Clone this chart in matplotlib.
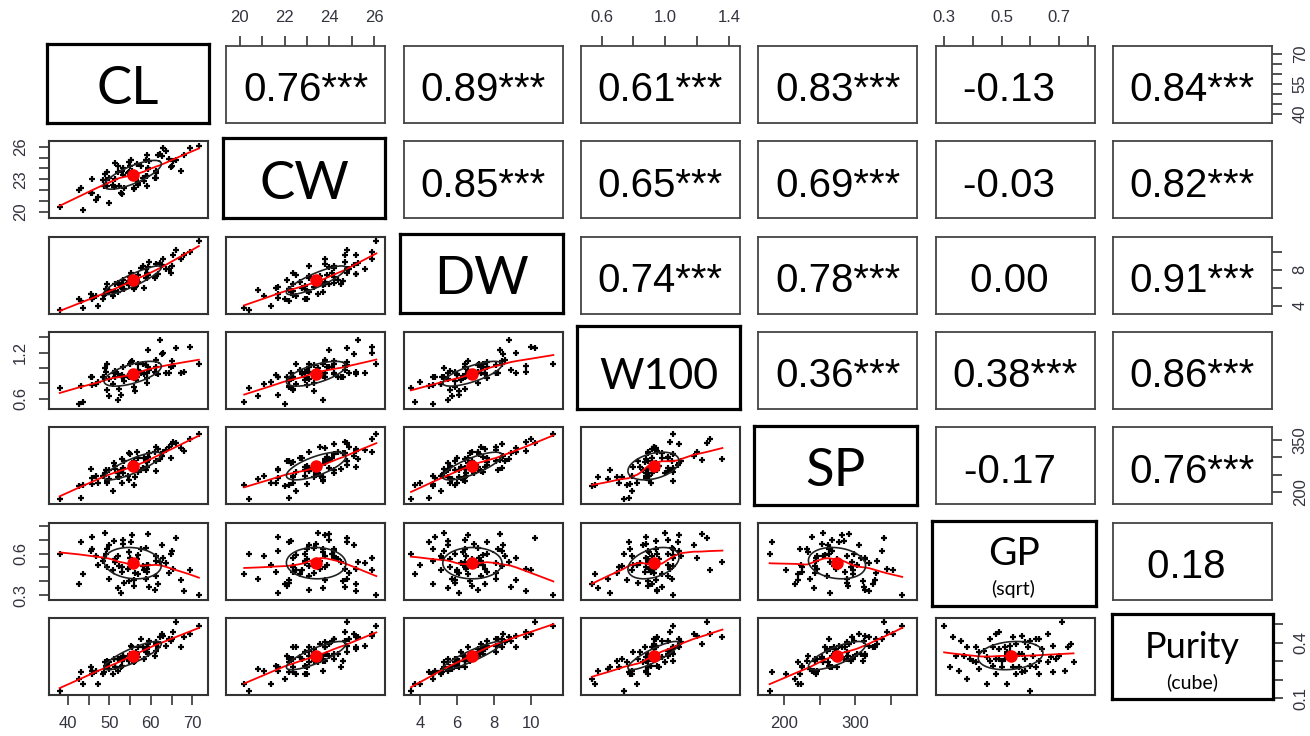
import numpy as np
import matplotlib
matplotlib.use("Agg")
import matplotlib.pyplot as plt

# variables shown on the diagonal
names = ["CL", "CW", "DW", "W100", "SP", "GP", "Purity"]
subtitles = ["", "", "", "", "", "(sqrt)", "(cube)"]

# observations (same row index = same sample)
cl = [38.0, 43.5, 43.2, 47.3, 42.6, 46.8, 45.8, 50.9, 45.7, 49.9,
      48.5, 49.3, 45.6, 52.0, 48.7, 53.1, 49.9, 52.4, 48.9, 55.9,
      51.3, 52.9, 49.1, 54.5, 51.2, 56.1, 51.4, 53.6, 49.5, 56.5,
      53.2, 58.3, 52.0, 56.0, 54.6, 57.0, 53.2, 59.1, 54.7, 56.8,
      53.0, 58.9, 56.7, 61.3, 55.5, 59.1, 54.9, 59.0, 61.1, 57.6,
      59.2, 55.1, 61.3, 58.9, 64.9, 58.1, 61.7, 59.3, 64.5, 61.3,
      63.6, 59.5, 65.2, 62.3, 67.2, 62.8, 65.3, 62.9, 68.1, 66.1,
      69.5, 71.6]
cw = [20.4, 20.2, 22.2, 21.4, 22.0, 21.1, 23.0, 22.5, 21.7, 20.8,
      22.9, 22.4, 21.7, 23.7, 22.4, 21.6, 23.1, 22.4, 23.5, 22.2,
      23.0, 21.7, 22.9, 23.6, 22.3, 23.3, 24.5, 22.2, 23.7, 22.9,
      23.4, 22.8, 24.2, 22.1, 23.7, 22.7, 24.0, 23.3, 24.6, 22.5,
      23.8, 23.3, 24.4, 23.1, 23.8, 22.4, 24.2, 25.2, 23.1, 24.2,
      23.9, 24.8, 23.6, 24.8, 24.1, 23.1, 25.2, 24.0, 24.9, 23.8,
      25.6, 24.7, 24.2, 25.3, 23.8, 25.1, 24.7, 25.9, 25.2, 24.8,
      25.9, 26.1]
dw = [3.5, 3.7, 4.5, 4.0, 4.7, 5.1, 4.7, 5.1, 4.8, 5.7,
      4.7, 5.6, 5.3, 5.5, 5.2, 6.0, 5.5, 6.4, 5.3, 5.9,
      5.6, 6.1, 5.9, 6.5, 5.5, 6.1, 6.4, 5.9, 6.4, 6.2,
      6.9, 6.0, 6.5, 6.8, 6.3, 6.6, 6.4, 7.1, 6.7, 7.4,
      6.4, 7.1, 6.8, 7.3, 6.6, 7.6, 7.2, 7.5, 7.1, 8.2,
      7.4, 7.6, 7.3, 8.1, 7.6, 8.4, 7.5, 8.3, 8.1, 8.6,
      8.1, 8.9, 8.4, 8.8, 9.2, 8.5, 9.7, 9.2, 9.7, 10.2,
      10.0, 11.2]
w100 = [0.74, 0.56, 0.77, 0.82, 0.54, 0.79, 0.78, 0.79, 0.88, 0.64,
        0.89, 0.71, 0.89, 0.58, 0.88, 0.91, 0.86, 0.73, 1.00, 0.76,
        0.96, 0.65, 0.95, 0.90, 0.94, 0.70, 0.89, 0.83, 1.05, 0.84,
        0.88, 0.92, 0.92, 0.89, 0.90, 0.98, 1.02, 0.80, 0.89, 1.05,
        0.88, 1.04, 0.89, 1.02, 1.09, 0.87, 1.05, 0.93, 0.95, 0.94,
        1.02, 1.08, 0.93, 1.04, 1.02, 1.05, 0.92, 1.23, 0.93, 1.10,
        0.94, 0.98, 1.09, 1.36, 0.94, 1.18, 1.03, 1.20, 0.95, 1.26,
        1.28, 1.05]
sp = [180, 220, 183, 224, 216, 246, 223, 203, 240, 236,
      245, 225, 267, 242, 245, 226, 262, 243, 255, 220,
      275, 264, 263, 246, 284, 244, 265, 288, 232, 272,
      254, 297, 255, 290, 234, 297, 268, 272, 311, 257,
      294, 264, 314, 261, 282, 286, 308, 273, 314, 263,
      302, 278, 331, 289, 298, 270, 325, 292, 329, 289,
      320, 313, 337, 295, 328, 305, 344, 314, 319, 341,
      353, 366]
gp = [0.60, 0.45, 0.68, 0.52, 0.38, 0.58, 0.63, 0.48, 0.72, 0.42,
      0.55, 0.50, 0.62, 0.35, 0.57, 0.47, 0.66, 0.51, 0.75, 0.41,
      0.56, 0.32, 0.60, 0.49, 0.69, 0.46, 0.54, 0.39, 0.63, 0.53,
      0.67, 0.48, 0.58, 0.37, 0.61, 0.45, 0.70, 0.52, 0.40, 0.59,
      0.50, 0.64, 0.56, 0.44, 0.73, 0.47, 0.57, 0.49, 0.34, 0.63,
      0.52, 0.68, 0.55, 0.42, 0.60, 0.51, 0.38, 0.74, 0.46, 0.58,
      0.53, 0.36, 0.62, 0.54, 0.41, 0.66, 0.49, 0.57, 0.33, 0.71,
      0.48, 0.30]
purity = [0.12, 0.16, 0.23, 0.16, 0.19, 0.24, 0.22, 0.22, 0.24, 0.25,
          0.22, 0.26, 0.26, 0.24, 0.23, 0.27, 0.29, 0.31, 0.29, 0.29,
          0.26, 0.26, 0.27, 0.31, 0.31, 0.30, 0.26, 0.31, 0.30, 0.35,
          0.32, 0.31, 0.31, 0.33, 0.33, 0.32, 0.33, 0.35, 0.30, 0.38,
          0.30, 0.37, 0.34, 0.36, 0.38, 0.38, 0.34, 0.37, 0.33, 0.43,
          0.34, 0.39, 0.40, 0.35, 0.42, 0.38, 0.38, 0.40, 0.43, 0.41,
          0.39, 0.42, 0.43, 0.44, 0.38, 0.46, 0.47, 0.45, 0.44, 0.53,
          0.46, 0.51]

# correlations (upper triangle, row by row) and their significance stars
r_upper = [0.76, 0.89, 0.61, 0.83, -0.13, 0.84,
           0.85, 0.65, 0.69, -0.03, 0.82,
           0.74, 0.78, 0.00, 0.91,
           0.36, 0.38, 0.86,
           -0.17, 0.76,
           0.18]
stars_upper = ["***", "***", "***", "***", " ", "***",
               "***", "***", "***", " ", "***",
               "***", "***", " ", "***",
               "***", "***", "***",
               " ", "***",
               " "]

# axis ranges, ticks and labelled tick values per variable
lims = [(35.4, 73.8), (19.4, 26.5), (3.1, 11.7), (0.47, 1.47),
        (164, 387), (0.27, 0.823), (0.096, 0.556)]
ticks = [[40, 45, 50, 55, 60, 65, 70], [20, 21, 22, 23, 24, 25, 26],
         [4, 6, 8, 10], [0.6, 0.8, 1.0, 1.2, 1.4], [200, 250, 300, 350],
         [0.3, 0.4, 0.5, 0.6, 0.7, 0.8], [0.1, 0.2, 0.3, 0.4, 0.5]]
x_labelled = [[40, 50, 60, 70], [20, 22, 24, 26], [4, 6, 8, 10],
              [0.6, 1.0, 1.4], [200, 300], [0.3, 0.5, 0.7], []]
y_labelled = [[40, 55, 70], [20, 23, 26], [4, 8], [0.6, 1.2],
              [200, 350], [0.3, 0.6], [0.1, 0.4]]
decimals = [0, 0, 0, 1, 0, 1, 1]

# diagonal name boxes sit a few pixels off the panel grid (left, top, right, bottom)
diag_pad = [(2, 2, 1, 0), (3, 3, 0, 0), (4, 3, 0, -1), (4, 6, 0, 0),
            (4, 1, 0, 1), (4, 2, 1, 6), (1, 4, 1, 4)]
diag_size = [38, 38, 38, 31, 38, 28, 26]

data = [np.asarray(v, dtype=float) for v in (cl, cw, dw, w100, sp, gp, purity)]
nv = len(names)

R = np.eye(nv)
k = 0
stars = {}
for i in range(nv):
    for j in range(i + 1, nv):
        R[i, j] = R[j, i] = r_upper[k]
        stars[(i, j)] = stars_upper[k]
        k += 1


def lowess(x, y, f=2 / 3, iters=3):
    order = np.argsort(x)
    x, y = x[order], y[order]
    n = len(x)
    r = int(np.ceil(f * n))
    h = np.array([np.sort(np.abs(x - x[i]))[r - 1] for i in range(n)])
    h = np.where(h == 0, 1e-9, h)
    u = np.clip(np.abs((x[None, :] - x[:, None]) / h[:, None]), 0, 1)
    w = (1 - u ** 3) ** 3
    delta = np.ones(n)
    fit = np.zeros(n)
    for _ in range(iters + 1):
        for i in range(n):
            wi = w[i] * delta
            a = np.array([[wi.sum(), (wi * x).sum()],
                          [(wi * x).sum(), (wi * x * x).sum()]])
            b = np.array([(wi * y).sum(), (wi * x * y).sum()])
            try:
                beta = np.linalg.solve(a, b)
                fit[i] = beta[0] + beta[1] * x[i]
            except np.linalg.LinAlgError:
                fit[i] = b[0] / a[0, 0]
        res = y - fit
        s = np.median(np.abs(res))
        d = np.clip(res / (6 * s), -1, 1)
        delta = (1 - d ** 2) ** 2
    return x, fit


def ellipse(xm, ym, xs, ys, r, segments=51):
    ang = np.arange(segments + 1) * 2 * np.pi / segments
    circle = np.column_stack([np.cos(ang), np.sin(ang)])
    th = np.sign(r) / np.sqrt(2) if abs(r) > 0 else 1 / np.sqrt(2)
    shape = np.diag([np.sqrt(1 + r), np.sqrt(1 - r)]) @ np.array([[th, th], [-th, th]])
    e = circle @ shape
    return e[:, 0] * xs + xm, e[:, 1] * ys + ym


def fmt(v, d):
    return f"{v:.{d}f}"


tick_kw = dict(length=7, width=1.2, color="#333333", labelcolor="#33333f",
               labelsize=12, pad=8)


def add_axis(ax, var, side):
    t = ticks[var]
    if side in ("top", "bottom"):
        keep = x_labelled[var]
        lab = [fmt(v, decimals[var]) if any(np.isclose(v, keep)) else "" for v in t]
        ax.set_xticks(t)
        ax.set_xticklabels(lab, fontfamily="Liberation Sans")
        ax.tick_params(axis="x", top=(side == "top"), labeltop=(side == "top"),
                       bottom=(side == "bottom"), labelbottom=(side == "bottom"),
                       **tick_kw)
    else:
        keep = y_labelled[var]
        lab = [fmt(v, decimals[var]) if any(np.isclose(v, keep)) else "" for v in t]
        ax.set_yticks(t)
        ax.set_yticklabels(lab, rotation=90, va="center", fontfamily="Liberation Sans")
        ax.tick_params(axis="y", left=(side == "left"), labelleft=(side == "left"),
                       right=(side == "right"), labelright=(side == "right"),
                       **tick_kw)


W, H = 1310, 736
fig = plt.figure(figsize=(W / 100, H / 100), dpi=100)

left0, top0 = 49, 46
pw, ph = 159, 77
dx, dy = 177.3, 95.3

for i in range(nv):
    for j in range(nv):
        x_px = left0 + j * dx
        y_px = top0 + i * dy
        w_px, h_px = pw, ph
        if i == j:
            pl, pt, pr, pb = diag_pad[i]
            x_px -= pl
            y_px -= pt
            w_px += pl + pr
            h_px += pt + pb
        ax = fig.add_axes([x_px / W, 1 - (y_px + h_px) / H, w_px / W, h_px / H])
        ax.set_xlim(lims[j])
        ax.set_ylim(lims[i])
        ax.set_xticks([])
        ax.set_yticks([])

        if i == j:
            for s in ax.spines.values():
                s.set_linewidth(2.3)
                s.set_color("black")
            if subtitles[i]:
                ax.text(0.5, 0.48, names[i], transform=ax.transAxes, ha="center",
                        va="baseline", fontsize=diag_size[i], fontfamily="Lato")
                ax.text(0.5, 0.12, subtitles[i], transform=ax.transAxes, ha="center",
                        va="baseline", fontsize=14, fontfamily="Lato")
            else:
                ax.text(0.5, 0.24, names[i], transform=ax.transAxes, ha="center",
                        va="baseline", fontsize=diag_size[i], fontfamily="Lato")
        elif i < j:
            for s in ax.spines.values():
                s.set_linewidth(1.3)
                s.set_color("#444444")
            txt = f"{R[i, j]:.2f}{stars[(i, j)]}"
            ax.text(0.5, 0.28, txt, transform=ax.transAxes, ha="center",
                    va="baseline", fontsize=29, fontfamily="Liberation Sans")
        else:
            for s in ax.spines.values():
                s.set_linewidth(1.5)
                s.set_color("#333333")
            x, y = data[j], data[i]
            ax.plot(x, y, "+", color="black", ms=4.5, mew=1.6)
            lx, ly = lowess(x, y)
            ax.plot(lx, ly, color="red", lw=1.3)
            ex, ey = ellipse(x.mean(), y.mean(), x.std(ddof=1), y.std(ddof=1), R[i, j])
            ax.plot(ex, ey, color="#222222", lw=1.2)
            ax.plot(x.mean(), y.mean(), "o", color="red", ms=8)

        if i == 0 and j % 2 == 1:
            add_axis(ax, j, "top")
        if i == nv - 1 and j % 2 == 0 and j != nv - 1:
            add_axis(ax, j, "bottom")
        if j == 0 and i % 2 == 1:
            add_axis(ax, i, "left")
        if j == nv - 1 and i % 2 == 0:
            add_axis(ax, i, "right")

fig.savefig("out.png", dpi=100)
